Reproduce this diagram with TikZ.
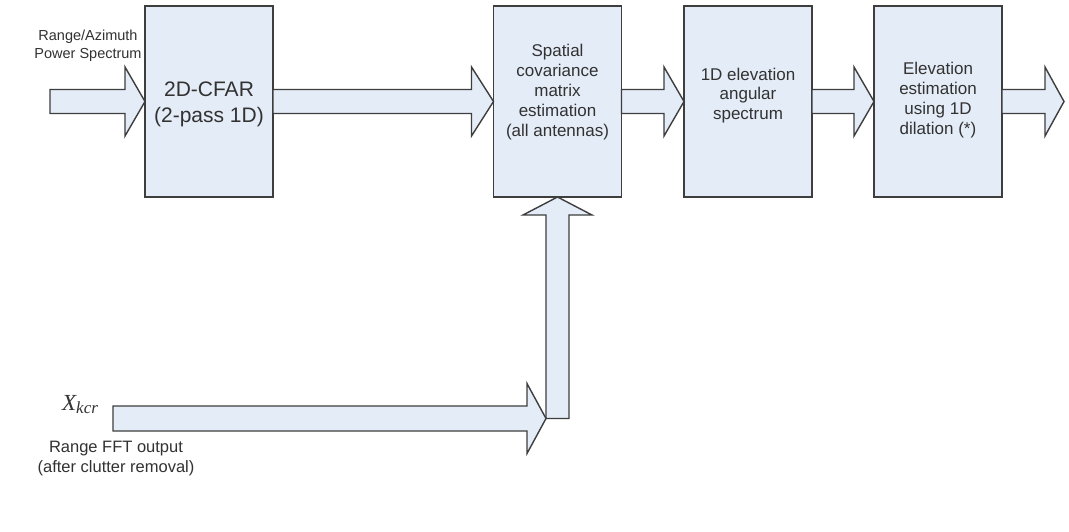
\documentclass[tikz,border=0pt]{standalone}
\usepackage{fontspec}
\setmainfont{Liberation Sans}
\newfontfamily\serifit{Liberation Serif}
\usetikzlibrary{calc}
\definecolor{boxfill}{RGB}{228,236,247}
\definecolor{edge}{RGB}{62,62,62}
\definecolor{ink}{RGB}{50,50,50}

% horizontal block arrow: #2 = tail point, #3 = tip point, #1 = head length
\newcommand{\flowarrow}[3][20pt]{%
  \path[blockarrow] let \p1=(#2), \p2=(#3) in
    (\x1,\y2+12pt) -- (\x2-#1,\y2+12pt) -- (\x2-#1,\y2+34.5pt) -- (\x2,\y2)
    -- (\x2-#1,\y2-34.5pt) -- (\x2-#1,\y2-12pt) -- (\x1,\y2-12pt) -- cycle;}

\begin{document}
\begin{tikzpicture}[x=1pt,y=-1pt,
  stage/.style={draw=edge,line width=1.4pt,fill=boxfill,minimum width=128pt,
    minimum height=191pt,inner sep=0pt,outer sep=0pt},
  stagetext/.style={text=ink,align=center,inner sep=0pt,
    font=\fontsize{17}{19.8}\selectfont},
  blockarrow/.style={draw=edge,line width=1.4pt,fill=boxfill,line join=miter},
  caption/.style={text=ink,align=center,inner sep=0pt}]
\useasboundingbox (0,0) rectangle (1069,531);
\fill[white] (0,0) rectangle (1069,531);

% processing stages
\node[stage] (cfar) at (209,101.5) {};
\node[stage] (cov)  at (557.5,101.5) {};
\node[stage] (spec) at (748,101.5) {};
\node[stage] (elev) at (938,101.5) {};

\node[stagetext,font=\fontsize{21}{26}\selectfont] (cfarT) at (209,104)
  {2D-CFAR\\(2-pass 1D)};
\node[stagetext] (covT) at (557.5,92)
  {Spatial\\covariance\\matrix\\estimation\\(all antennas)};
\node[stagetext] (specT) at (748,95.5) {1D elevation\\angular\\spectrum};
\node[stagetext] (elevT) at (938,100) {Elevation\\estimation\\using 1D\\dilation (*)};

% free ends of the flow
\coordinate (inTail)  at (50,101.5);
\coordinate (outTip)  at (1064,101.5);
\coordinate (join)    at (557.5,418.5);
\coordinate (fftTail) at (113,418.5);
\coordinate (joinTip) at ($(join)+(-11.5,0)$);

% main flow arrows
\flowarrow{inTail}{cfar.west}
\flowarrow[22pt]{cfar.east}{cov.west}
\flowarrow{cov.east}{spec.west}
\flowarrow{spec.east}{elev.west}
\flowarrow[19pt]{elev.east}{outTip}

% range FFT feed into the covariance stage
\path[blockarrow] let \p1=(join), \p2=(cov.south) in
  (\x2-11.5pt,\y1) -- (\x2-11.5pt,\y2-18pt) -- (\x2-34.5pt,\y2-18pt) -- (\x2,\y2)
  -- (\x2+34.5pt,\y2-18pt) -- (\x2+11.5pt,\y2-18pt) -- (\x2+11.5pt,\y1) -- cycle;
\path[blockarrow] let \p1=(fftTail), \p2=(joinTip) in
  (\x1,\y2+12.5pt) -- (\x2-19pt,\y2+12.5pt) -- (\x2-19pt,\y2+35pt) -- (\x2,\y2)
  -- (\x2-19pt,\y2-35pt) -- (\x2-19pt,\y2-12.5pt) -- (\x1,\y2-12.5pt) -- cycle;

% labels
\node[caption,font=\fontsize{14.5}{18}\selectfont] (inLbl) at (88,46)
  {Range/Azimuth\\Power Spectrum};
\node[caption,font=\fontsize{16.5}{20}\selectfont] (fftLbl) at (116,459)
  {Range FFT output\\(after clutter removal)};
\node[anchor=base west,inner sep=0pt,text=ink] (xk) at (62,410)
  {\fontsize{23}{23}\selectfont\serifit\itshape X\raisebox{-3pt}{\fontsize{17}{17}\selectfont kcr}};
\end{tikzpicture}
\end{document}
